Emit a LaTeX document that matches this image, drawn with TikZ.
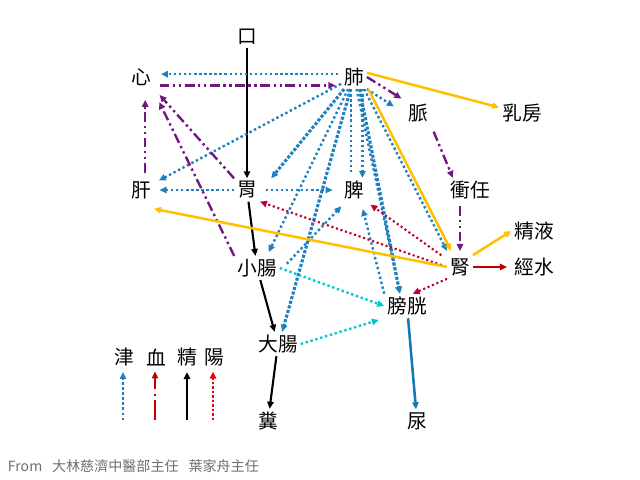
\documentclass[tikz,border=0pt]{standalone}
\usepackage{fontspec}
\usepackage{tikz}
\usetikzlibrary{arrows.meta}
\usepackage{xcolor}
\newfontfamily\cjk{Noto Sans CJK TC}
\definecolor{jinblue}{RGB}{30,128,190}
\definecolor{niaoblue}{RGB}{20,120,180}
\definecolor{xuepurple}{RGB}{112,24,128}
\definecolor{xuered}{RGB}{192,0,0}
\definecolor{yangred}{RGB}{190,0,50}
\definecolor{yangkey}{RGB}{235,0,20}
\definecolor{goldline}{RGB}{255,192,0}
\definecolor{shuicyan}{RGB}{0,200,210}
\definecolor{footgray}{RGB}{110,110,110}

\begin{document}
\begin{tikzpicture}[x=0.025cm, y=-0.025cm,
    organ/.style={inner sep=2pt, font=\cjk\fontsize{14}{14}\selectfont},
    headed/.style={-{Triangle[length=5pt,width=4.5pt]}},
    jin/.style={headed, jinblue, line width=1.7pt, dash pattern=on 1.7pt off 1.9pt},
    jinthick/.style={headed, jinblue, line width=2.2pt, dash pattern=on 2.2pt off 1.2pt},
    niao/.style={headed, niaoblue, line width=1.8pt},
    xue/.style={headed, xuepurple, line width=1.7pt, dash pattern=on 7pt off 2.5pt on 1.7pt off 2.5pt on 1.7pt off 2.5pt},
    xuekey/.style={headed, xuered, line width=1.7pt, dash pattern=on 14pt off 3pt on 1.7pt off 3pt},
    jing/.style={headed, black, line width=1.5pt},
    jingshui/.style={headed, xuered, line width=1.7pt},
    yang/.style={headed, yangred, line width=1.5pt, dash pattern=on 1.5pt off 1.9pt},
    yangline/.style={headed, yangkey, line width=1.5pt, dash pattern=on 1.5pt off 1.7pt},
    gold/.style={headed, goldline, line width=1.8pt},
    shui/.style={headed, shuicyan, line width=1.7pt, dash pattern=on 1.7pt off 1.9pt}]
    % organs and the flow of jin, xue, jing and yang between them
    \useasboundingbox (0,0) rectangle (640,480);
    \node[organ] (kou) at (247,37) {口};
    \node[organ] (xin) at (141,77) {心};
    \node[organ] (fei) at (354,77) {肺};
    \node[organ] (mai) at (418,113) {脈};
    \node[organ] (rufang) at (522,113) {乳房};
    \node[organ] (gan) at (141,190) {肝};
    \node[organ] (wei) at (247,190) {胃};
    \node[organ] (pi) at (354,190) {脾};
    \node[organ] (chongren) at (470,190) {衝任};
    \node[organ] (jingye) at (534,231) {精液};
    \node[organ] (shen) at (460,267) {腎};
    \node[organ] (jingshuinode) at (534,267) {經水};
    \node[organ] (xiaochang) at (257,268) {小腸};
    \node[organ] (pangguang) at (407,306) {膀胱};
    \node[organ] (dachang) at (278,344) {大腸};
    \node[organ] (fen) at (268,421) {糞};
    \node[organ] (niaonode) at (417,421) {尿};

    \draw[jing] (kou) -- (wei);
    \draw[jing] (wei) -- (xiaochang);
    \draw[jing] (xiaochang) -- (dachang);
    \draw[jing] (dachang) -- (fen);

    \draw[jin, shorten <=2pt, shorten >=5pt] ([yshift=2pt]fei.west) -- ([yshift=2pt]xin.east);
    \draw[jin, shorten >=4pt] (fei) -- (gan);
    \draw[jinthick] (fei) -- ([xshift=8pt]wei.north east);
    \draw[jin, shorten >=3pt] (fei) -- ([xshift=7pt]xiaochang.north);
    \draw[jinthick] (fei) -- ([xshift=3pt]dachang.north);
    \draw[jin, -, shorten >=3pt] ([xshift=-2pt]fei.south) -- ([xshift=-2pt]pi.north);
    \draw[jin] ([xshift=6pt]fei.south) -- ([xshift=6pt]pi.north);
    \draw[jin] (fei) -- ([xshift=-5pt]pangguang.north);
    \draw[jinthick] ([xshift=4pt]fei.south) -- ([xshift=-5pt]pangguang.north);
    \draw[jin] ([xshift=-2pt]fei.south east) -- ([yshift=3pt]shen.north west);
    \draw[jin] (fei.south east) -- ([shift={(-8pt,-4pt)}]mai.north west);
    \draw[jin, shorten >=4pt] (wei) -- (gan);
    \draw[jin, shorten <=4pt, shorten >=6pt] (wei) -- (pi);
    \draw[jin, shorten >=5pt] (pangguang.north west) -- ([xshift=5pt]pi.south);
    \draw[jin, shorten >=4pt] ([shift={(5pt,3pt)}]xiaochang.east) -- ([xshift=3pt]pi.south west);
    \draw[niao] (pangguang) -- (niaonode);

    \draw[shui] (xiaochang.east) -- (pangguang.west);
    \draw[shui, shorten >=4pt] (dachang.east) -- (pangguang.south west);

    \draw[xue, shorten <=4pt, shorten >=4pt] ([yshift=-6pt]xin.east) -- ([yshift=-6pt]fei.west);
    \draw[xue, shorten <=4pt, shorten >=8pt] ([xshift=3pt]gan.north) -- ([xshift=3pt]xin.south);
    \draw[xue, shorten >=6pt] (wei.north west) -- (xin.south east);
    \draw[xue, shorten >=4pt] (xiaochang.north west) -- ([shift={(2pt,-6pt)}]xin.south east);
    \draw[xue, shorten >=3pt] (fei.east) -- (mai.north west);
    \draw[xue, shorten <=5pt] (mai.south east) -- ([xshift=4pt]chongren.north west);
    \draw[xue, shorten <=3pt, shorten >=3pt] (shen.north |- chongren.south) -- (shen.north);

    \draw[yang, shorten <=4pt] (shen.west) -- (wei.south east);
    \draw[yang, shorten <=5pt, shorten >=3pt] ([yshift=-3pt]shen.north west) -- (pi.south east);
    \draw[yang] (shen.south west) -- ([xshift=4pt]pangguang.north);

    \draw[gold] ([yshift=3pt]fei.east) -- ([yshift=4pt]rufang.west);
    \draw[gold] ([xshift=1pt]fei.south east) -- ([shift={(3pt,3pt)}]shen.north west);
    \draw[gold] (shen.north east) -- (jingye.west);
    \draw[gold] (shen.west) -- ([yshift=-5pt]gan.south east);
    \draw[jingshui, shorten >=3pt] (shen) -- (jingshuinode);

    % legend
    \node[organ] (keyjin) at (124,357) {津};
    \node[organ] (keyxue) at (156,357) {血};
    \node[organ] (keyjing) at (187,357) {精};
    \node[organ] (keyyang) at (214,357) {陽};
    \coordinate (jinfoot) at (123,420);
    \coordinate (xuefoot) at (155,420);
    \coordinate (jingfoot) at (187,420);
    \coordinate (yangfoot) at (213,420);
    \draw[jin, shorten >=2pt] (jinfoot) -- (jinfoot |- keyjin.south);
    \draw[xuekey, shorten >=2pt] (xuefoot) -- (xuefoot |- keyxue.south);
    \draw[jing, shorten >=2pt] (jingfoot) -- (jingfoot |- keyjing.south);
    \draw[yangline, shorten >=2pt] (yangfoot) -- (yangfoot |- keyyang.south);

    \node[anchor=west, text=footgray, font=\cjk\fontsize{10}{11}\selectfont] (credit) at (3,466) {From\hspace{7pt}大林慈濟中醫部主任\hspace{7pt}葉家舟主任};
\end{tikzpicture}
\end{document}
